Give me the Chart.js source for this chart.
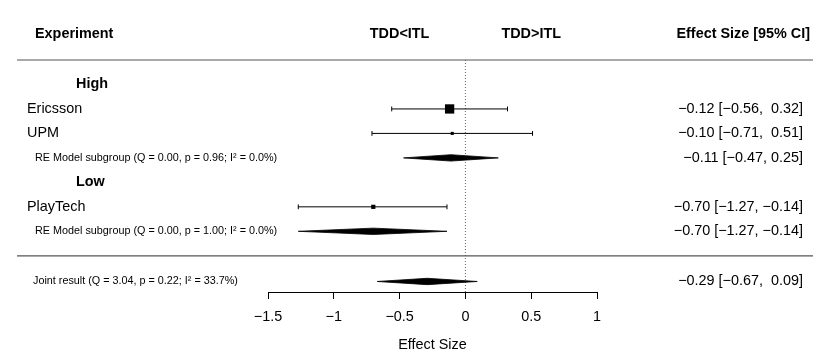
<!DOCTYPE html>
<html><head><meta charset="utf-8">
<script src="https://cdn.jsdelivr.net/npm/chart.js@4/dist/chart.umd.min.js"></script>
<style>html,body{margin:0;padding:0;background:#fff;}#wrap{width:830px;height:362px;}</style>
</head><body><div id="wrap"><canvas id="c" width="830" height="362"></canvas></div>
<script>
// ---------- data ----------
const studies = ['Ericsson', 'UPM', 'PlayTech'];
const studyGroup = ['High', 'High', 'Low'];
const studyEst = [-0.12, -0.10, -0.70];
const studyLo = [-0.56, -0.71, -1.27];
const studyHi = [0.32, 0.51, -0.14];
const studyWeight = [47.0, 24.5, 28.5];

const groups = ['High', 'Low'];
const groupEst = [-0.11, -0.70];
const groupLo = [-0.47, -1.27];
const groupHi = [0.25, -0.14];
const groupQ = [0.00, 0.00];
const groupP = [0.96, 1.00];
const groupI2 = [0.0, 0.0];

const jointEst = -0.29;
const jointLo = -0.67;
const jointHi = 0.09;
const jointQ = 3.04;
const jointP = 0.22;
const jointI2 = 33.7;

const xTicks = [-1.5, -1, -0.5, 0, 0.5, 1];
const directionLabels = ['TDD<ITL', 'TDD>ITL'];
const directionAt = [-0.5, 0.5];
const headers = ['Experiment', 'Effect Size [95% CI]'];
const axisTitle = 'Effect Size';

// ---------- layout (rows) ----------
const FONT = '"Liberation Sans", Arial, Helvetica, sans-serif';
const studyRows = [], headingRows = [], groupRows = [];
let r = 1;
groups.forEach(g => {
  headingRows.push(r); r++;
  studies.forEach((s, i) => { if (studyGroup[i] === g) { studyRows[i] = r; r++; } });
  groupRows.push(r); r++;
});
const SEP_ROW = r;            // 8
const JOINT_ROW = r + 1.05;
const Y_MAX = r + 1.48;
const HEADER_ROW = -1.06;
const DIAMOND_H = 0.13;

const minus = s => s.replace(/-/g, '\u2212');
const f2 = v => v.toFixed(2);
function annot(e, lo, hi, pad) {
  const h = pad ? f2(hi).padStart(5, ' ') : f2(hi);
  return minus(f2(e) + ' [' + f2(lo) + ', ' + h + ']');
}
const statText = (q, p, i2) => '(Q = ' + q.toFixed(2) + ', p = ' + p.toFixed(2) + '; I\u00B2 = ' + i2.toFixed(1) + '%)';

function diamond(e, lo, hi, row) {
  return [{x: lo, y: row}, {x: e, y: row - DIAMOND_H}, {x: hi, y: row}, {x: e, y: row + DIAMOND_H}, {x: lo, y: row}];
}

const wMin = Math.min(...studyWeight), wMax = Math.max(...studyWeight);
const sqRadius = studyWeight.map(w => (0.5 + (w - wMin) / (wMax - wMin)) * 6.2 / Math.SQRT2);

const datasets = [];
datasets.push({
  data: studies.map((s, i) => ({x: studyEst[i], y: studyRows[i]})),
  pointStyle: 'rect', pointRadius: sqRadius, backgroundColor: '#000', borderColor: '#000', borderWidth: 0, showLine: false
});
studies.forEach((s, i) => {
  datasets.push({
    data: [{x: studyLo[i], y: studyRows[i]}, {x: studyHi[i], y: studyRows[i]}],
    showLine: true, borderColor: '#000', borderWidth: 1,
    pointStyle: 'line', pointRadius: 2.4, rotation: 90, pointBorderWidth: 1, pointBorderColor: '#000'
  });
});
groups.forEach((g, k) => {
  datasets.push({
    data: diamond(groupEst[k], groupLo[k], groupHi[k], groupRows[k]),
    showLine: true, fill: 'shape', backgroundColor: '#000', borderColor: '#000', borderWidth: 0.8, pointRadius: 0
  });
});
datasets.push({
  data: diamond(jointEst, jointLo, jointHi, JOINT_ROW),
  showLine: true, fill: 'shape', backgroundColor: '#000', borderColor: '#000', borderWidth: 0.8, pointRadius: 0
});
datasets.push({
  data: [{x: 0, y: 0}, {x: 0, y: Y_MAX}],
  showLine: true, borderColor: '#666', borderWidth: 1, borderDash: [1, 2], pointRadius: 0
});

const textPlugin = {
  id: 'forestText',
  afterDraw(chart) {
    const {ctx, scales: {x, y}} = chart;
    const yp = v => y.getPixelForValue(v);
    ctx.save();
    ctx.strokeStyle = '#555'; ctx.lineWidth = 1.2;
    [0, SEP_ROW].forEach(row => {
      ctx.beginPath(); ctx.moveTo(17, yp(row)); ctx.lineTo(813, yp(row)); ctx.stroke();
    });
    ctx.fillStyle = '#000';
    ctx.textBaseline = 'middle';
    // headers
    ctx.font = 'bold 14.4px ' + FONT;
    ctx.textAlign = 'left'; ctx.fillText(headers[0], 35, yp(HEADER_ROW));
    ctx.textAlign = 'right'; ctx.fillText(headers[1], 810, yp(HEADER_ROW));
    ctx.textAlign = 'center';
    directionLabels.forEach((t, i) => ctx.fillText(t, x.getPixelForValue(directionAt[i]), yp(HEADER_ROW)));
    // group headings
    ctx.textAlign = 'left';
    groups.forEach((g, k) => ctx.fillText(g, 76, yp(headingRows[k])));
    // studies
    ctx.font = '14.4px ' + FONT;
    studies.forEach((s, i) => {
      ctx.textAlign = 'left'; ctx.fillText(s, 27, yp(studyRows[i]));
      ctx.textAlign = 'right'; ctx.fillText(annot(studyEst[i], studyLo[i], studyHi[i], true), 803, yp(studyRows[i]));
    });
    groups.forEach((g, k) => {
      ctx.textAlign = 'right';
      ctx.fillText(annot(groupEst[k], groupLo[k], groupHi[k], false), 803, yp(groupRows[k]));
    });
    ctx.fillText(annot(jointEst, jointLo, jointHi, true), 803, yp(JOINT_ROW));
    // small texts
    ctx.font = '10.8px ' + FONT;
    ctx.textAlign = 'left';
    groups.forEach((g, k) => ctx.fillText('RE Model subgroup ' + statText(groupQ[k], groupP[k], groupI2[k]), 35, yp(groupRows[k])));
    ctx.fillText('Joint result ' + statText(jointQ, jointP, jointI2), 33, yp(JOINT_ROW));
    ctx.restore();
  }
};

Chart.defaults.font.family = FONT;
new Chart(document.getElementById('c'), {
  type: 'scatter',
  data: {datasets},
  options: {
    responsive: false, animation: false, events: [],
    layout: {padding: {left: 268, right: 233, top: 60, bottom: 0}},
    plugins: {legend: {display: false}, tooltip: {enabled: false}},
    scales: {
      x: {
        type: 'linear', position: 'bottom', min: -1.5, max: 1,
        afterBuildTicks: s => { s.ticks = xTicks.map(v => ({value: v})); },
        afterFit: s => { s.height = 70; },
        ticks: {color: '#000', font: {size: 14.4}, padding: 9, maxRotation: 0, autoSkip: false,
          callback: v => minus(String(v))},
        grid: {drawOnChartArea: false, drawTicks: true, tickLength: 7, color: '#000', lineWidth: 1},
        border: {display: true, color: '#000', width: 1},
        title: {display: true, text: axisTitle, color: '#000', font: {size: 14.4}, padding: {top: 0, bottom: 8}}
      },
      y: {type: 'linear', display: false, reverse: true, min: 0, max: Y_MAX}
    }
  },
  plugins: [textPlugin]
});
</script></body></html>
